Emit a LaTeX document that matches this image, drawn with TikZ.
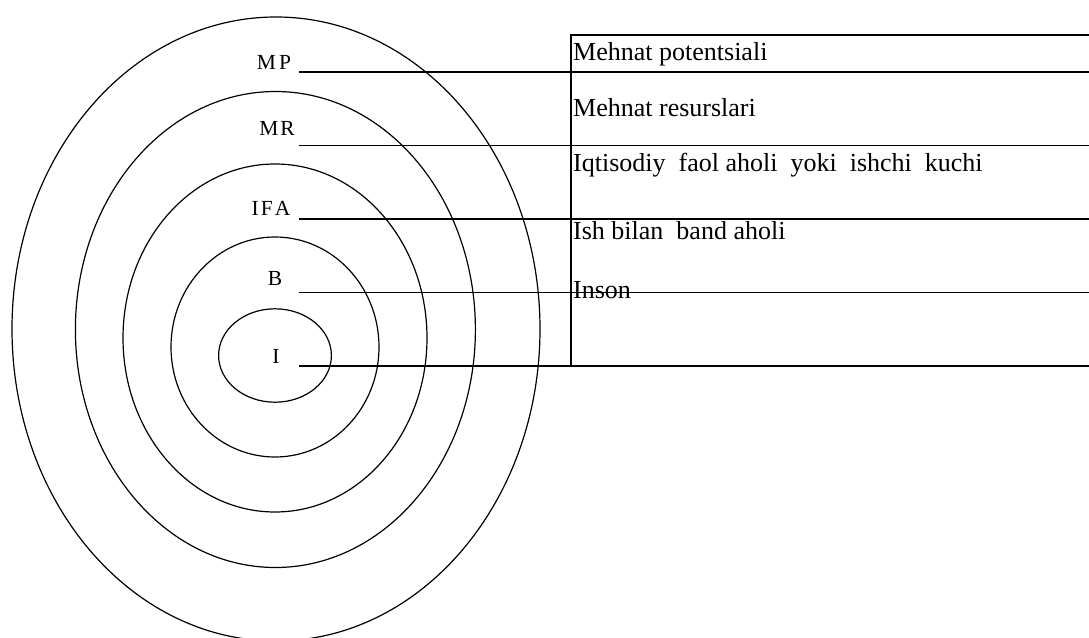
\documentclass[tikz,border=0pt]{standalone}
\usepackage{fontspec}
\setmainfont{Liberation Serif}
\begin{document}
\begin{tikzpicture}[x=1pt,y=-1pt,
  ring/.style={line width=1.2pt},
  rule/.style={line width=1.2pt},
  lab/.style={anchor=base,inner sep=0pt,font=\fontsize{21.5}{24}\selectfont},
  txt/.style={anchor=base west,inner sep=0pt,font=\fontsize{26}{30}\selectfont}]
\useasboundingbox (0,0) rectangle (1089,637);
% rings
\draw[ring] (276,329) ellipse [x radius=264pt, y radius=312pt];
\draw[ring] (275.4,329.5) ellipse [x radius=200pt, y radius=238pt];
\draw[ring] (275,338) ellipse [x radius=152pt, y radius=174pt];
\draw[ring] (275,347) ellipse [x radius=104pt, y radius=110pt];
\draw[ring] (275,355.5) ellipse [x radius=56.4pt, y radius=46.7pt];
% labels
\node[lab] (mp) at (274,69.3) {M\kern3pt P};
\node[lab] (mr) at (277,135) {M\kern2pt R};
\node[lab] (ifa) at (271,215) {I\kern2pt F\kern2pt A};
\node[lab] (b) at (275,285) {B};
\node[lab] (i) at (276,363.3) {I};
% line coordinates
\coordinate (mpL) at (299,72);   \coordinate (mpR) at (1089,72);
\coordinate (mrL) at (299,145.5); \coordinate (mrR) at (1089,145.5);
\coordinate (ifaL) at (299,219); \coordinate (ifaR) at (1089,219);
\coordinate (bL) at (299,292.5); \coordinate (bR) at (1089,292.5);
\coordinate (iL) at (299,366);   \coordinate (iR) at (1089,366);
\coordinate (topL) at (571,35);  \coordinate (topR) at (1089,35);
\coordinate (vB) at (571,366);
\draw[rule] (mpL) -- (mpR);
\draw[rule] (mrL) -- (mrR);
\draw[rule] (ifaL) -- (ifaR);
\draw[rule] (bL) -- (bR);
\draw[rule] (iL) -- (iR);
\draw[rule] (topR) -- (topL) -- (vB);
% texts
\node[txt] (t1) at (573,60.5) {Mehnat potentsiali};
\node[txt] (t2) at (573,116.7) {Mehnat resurslari};
\node[txt] (t3) at (573,171) {Iqtisodiy\ \ faol aholi\ \ yoki\ \ ishchi\ \ kuchi};
\node[txt] (t4) at (573,239) {Ish bilan\ \ band aholi};
\node[txt] (t5) at (573,298.3) {Inson};
\end{tikzpicture}
\end{document}
